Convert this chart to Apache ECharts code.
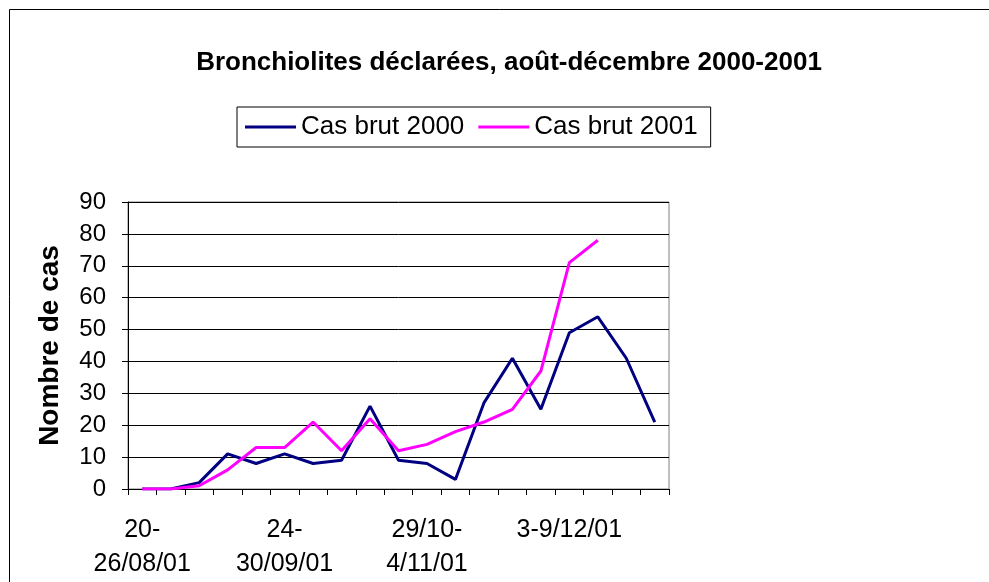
<!DOCTYPE html>
<html>
<head>
<meta charset="utf-8">
<script src="https://cdn.jsdelivr.net/npm/echarts@6/dist/echarts.min.js"></script>
<style>
  html, body { margin: 0; padding: 0; background: #fff; }
  #chart { width: 989px; height: 582px; }
</style>
</head>
<body>
<div id="chart"></div>
<script>
// Weekly categories (only every 5th label is shown on the axis)
const weeks = [
    '20-\n26/08/01', '27/08-\n2/09/01', '3-9/09/01', '10-16/09/01', '17-23/09/01',
    '24-\n30/09/01', '1-7/10/01', '8-14/10/01', '15-21/10/01', '22-28/10/01',
    '29/10-\n4/11/01', '5-11/11/01', '12-18/11/01', '19-25/11/01', '26/11-2/12/01',
    '3-9/12/01', '10-16/12/01', '17-23/12/01', '24-30/12/01'
];

const cases2000 = [0, 0, 2, 11, 8, 11, 8, 9, 26, 9, 8, 3, 27, 41, 25, 49, 54, 41, 21];
const cases2001 = [0, 0, 1, 6, 13, 13, 21, 12, 22, 12, 14, 18, 21, 25, 37, 71, 78];

const font = "'Liberation Sans', Arial, sans-serif";

const chart = echarts.init(document.getElementById('chart'));

const option = {
    backgroundColor: '#fff',
    animation: false,
    title: {
        text: 'Bronchiolites déclarées, août-décembre 2000-2001',
        left: 504,
        textAlign: 'center',
        top: 45,
        textStyle: { fontFamily: font, fontSize: 26, fontWeight: 'bold', color: '#000' }
    },
    legend: {
        left: 237,
        top: 107,
        padding: [7, 13, 7, 8],
        borderColor: '#000',
        borderWidth: 1,
        itemWidth: 51,
        itemHeight: 3,
        itemGap: 14,
        icon: 'rect',
        textStyle: { fontFamily: font, fontSize: 26, color: '#000' },
        data: ['Cas brut 2000', 'Cas brut 2001']
    },
    grid: {
        left: 128,
        right: 320,
        top: 202,
        bottom: 93,
        show: true,
        borderColor: '#808080',
        borderWidth: 1
    },
    xAxis: {
        type: 'category',
        data: weeks,
        boundaryGap: true,
        axisLine: { lineStyle: { color: '#000', width: 1 } },
        axisTick: { show: true, interval: 0, length: 6, lineStyle: { color: '#000' } },
        axisLabel: {
            interval: 4,
            margin: 24,
            fontFamily: font,
            fontSize: 25,
            lineHeight: 34,
            color: '#000'
        }
    },
    yAxis: {
        type: 'value',
        min: 0,
        max: 90,
        interval: 10,
        name: 'Nombre de cas',
        nameLocation: 'middle',
        nameGap: 64,
        nameTextStyle: { fontFamily: font, fontSize: 28, fontWeight: 'bold', color: '#000' },
        axisLine: { show: true, lineStyle: { color: '#000', width: 1 } },
        axisTick: { show: true, length: 6, lineStyle: { color: '#000' } },
        axisLabel: { margin: 22, fontFamily: font, fontSize: 24, color: '#000' },
        splitLine: { lineStyle: { color: '#000', width: 1 } }
    },
    series: [
        {
            name: 'Cas brut 2000',
            type: 'line',
            data: cases2000,
            symbol: 'none',
            color: '#000080',
            lineStyle: { color: '#000080', width: 3 }
        },
        {
            name: 'Cas brut 2001',
            type: 'line',
            data: cases2001,
            symbol: 'none',
            color: '#ff00ff',
            lineStyle: { color: '#ff00ff', width: 3 }
        }
    ],
    graphic: [
        {
            type: 'rect',
            shape: { x: 9.5, y: 9.5, width: 1000, height: 600 },
            style: { fill: 'none', stroke: '#000', lineWidth: 1 },
            silent: true
        }
    ]
};

chart.setOption(option);
</script>
</body>
</html>
